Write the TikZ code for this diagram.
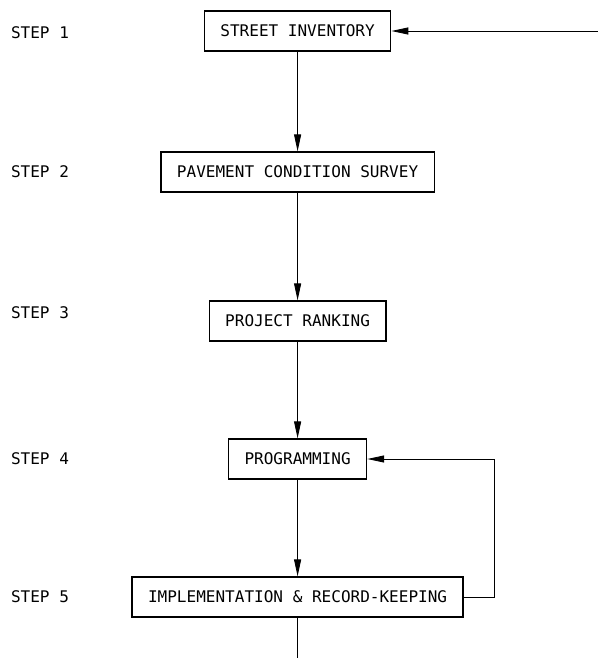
\documentclass[tikz,border=0pt]{standalone}
\usepackage{fontspec}
\setmainfont{DejaVu Sans Mono}
\usetikzlibrary{positioning,arrows.meta}

\begin{document}
\begin{tikzpicture}
          [stage/.style={rectangle,draw=black,line width=1pt,fill=white,
                         minimum height=1cm,inner xsep=0.4cm},
           node distance=3.45cm and 6.44cm,
           on grid,
           font=\fontsize{11.4}{13}\selectfont,
           >={Triangle[length=12pt,width=5pt]}
          ]
          \useasboundingbox (-7.44,0.775) rectangle (7.49,-15.675);
          \node[stage] (inventory) {STREET INVENTORY};
          \node[stage,below=3.525cm of inventory] (survey) {PAVEMENT CONDITION SURVEY};
          \node[stage,below=3.725cm of survey] (ranking) {PROJECT RANKING};
          \node[stage,below=of ranking] (programming) {PROGRAMMING};
          \node[stage,below=of programming] (implementation) {IMPLEMENTATION \& RECORD-KEEPING};
          % step labels
          \node[left=of inventory,yshift=-0.05cm] (step1) {STEP 1};
          \node[left=of survey] (step2) {STEP 2};
          \node[left=of ranking,yshift=0.2cm] (step3) {STEP 3};
          \node[left=of programming] (step4) {STEP 4};
          \node[left=of implementation] (step5) {STEP 5};
          \coordinate[right=7.6cm of inventory] (feed);
          \coordinate[below=1.6cm of implementation] (out);
          \draw[line width=0.6pt]
            (feed) edge[->] (inventory)
            (inventory) edge[->] (survey)
            (survey) edge[->] (ranking)
            (ranking) edge[->] (programming)
            (programming) edge[->] (implementation)
            (implementation) edge (out);
          \draw[->,line width=0.6pt] (implementation.east) -- ++(0.775,0) |- (programming.east);
        \end{tikzpicture}
\end{document}
